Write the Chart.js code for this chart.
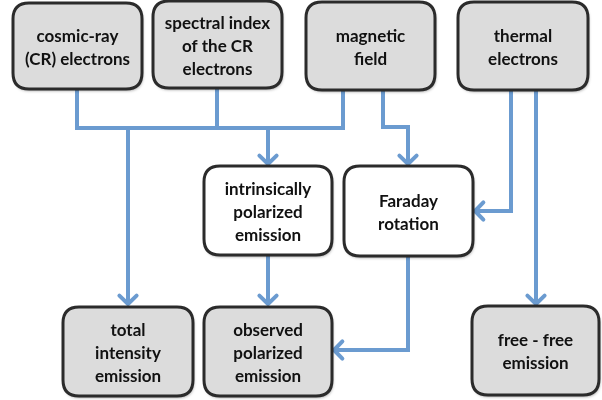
<!DOCTYPE html>
<html><head><meta charset="utf-8">
<script src="https://cdn.jsdelivr.net/npm/chart.js@4/dist/chart.umd.min.js"></script>
<style>html,body{margin:0;padding:0;background:#fff}#wrap{width:602px;height:400px}</style>
</head><body><div id="wrap"><canvas id="c" width="602" height="400"></canvas></div>
<script>
// Node labels (lines) and node extents (in diagram units)
const nodeLabels = [
  ["cosmic-ray","(CR) electrons"],
  ["spectral index","of the CR","electrons"],
  ["magnetic","field"],
  ["thermal","electrons"],
  ["intrinsically","polarized","emission"],
  ["Faraday","rotation"],
  ["total","intensity","emission"],
  ["observed","polarized","emission"],
  ["free - free","emission"]
];
const nodeLeft   = [13, 153, 306, 458, 204, 344, 63, 204, 472];
const nodeRight  = [142, 282, 435, 588, 332, 473, 193, 332, 599];
const nodeTop    = [3, 1, 2, 2, 166, 166, 307, 307, 306];
const nodeBottom = [89, 88, 90, 90, 255, 256, 396, 396, 395];
const nodeKind   = ["input","input","input","input","process","process","output","output","output"];

// Connectors: polylines of x / y values; last point gets an arrow if flagged
const connX = [
  [77, 77, 343, 343],
  [217, 217],
  [128, 128],
  [268, 268],
  [383, 383, 408, 408],
  [511, 511, 475],
  [536, 536],
  [268, 268],
  [408, 408, 334]
];
const connY = [
  [89, 128, 128, 90],
  [88, 128],
  [128, 304],
  [128, 164],
  [90, 127, 127, 164],
  [90, 211, 211],
  [90, 304],
  [255, 304],
  [256, 350, 350]
];
const connArrow = [false, false, true, true, true, true, true, true, true];

const LINE = '#6b9bd0';
const datasets = connX.map((xs, i) => ({
  type: 'line',
  data: xs.map((x, j) => ({x: x, y: connY[i][j]})),
  borderColor: LINE,
  borderWidth: 4,
  pointRadius: 0,
  tension: 0,
  fill: false,
  clip: false,
  arrow: connArrow[i]
}));

function rr(ctx, x, y, w, h, r) {
  ctx.beginPath();
  ctx.moveTo(x + r, y);
  ctx.lineTo(x + w - r, y);
  ctx.quadraticCurveTo(x + w, y, x + w, y + r);
  ctx.lineTo(x + w, y + h - r);
  ctx.quadraticCurveTo(x + w, y + h, x + w - r, y + h);
  ctx.lineTo(x + r, y + h);
  ctx.quadraticCurveTo(x, y + h, x, y + h - r);
  ctx.lineTo(x, y + r);
  ctx.quadraticCurveTo(x, y, x + r, y);
  ctx.closePath();
}

const diagramPlugin = {
  id: 'diagram',
  afterDatasetsDraw(chart) {
    const ctx = chart.ctx, sx = chart.scales.x, sy = chart.scales.y;
    // arrowheads
    chart.data.datasets.forEach((ds) => {
      if (!ds.arrow) return;
      const n = ds.data.length;
      const p1 = ds.data[n - 2], p2 = ds.data[n - 1];
      const x1 = sx.getPixelForValue(p1.x), y1 = sy.getPixelForValue(p1.y);
      const x2 = sx.getPixelForValue(p2.x), y2 = sy.getPixelForValue(p2.y);
      const a = Math.atan2(y2 - y1, x2 - x1);
      const L = 12, sp = 0.8;
      ctx.save();
      ctx.strokeStyle = LINE; ctx.lineWidth = 4; ctx.lineCap = 'round'; ctx.lineJoin = 'round';
      ctx.beginPath();
      ctx.moveTo(x2 - L * Math.cos(a - sp), y2 - L * Math.sin(a - sp));
      ctx.lineTo(x2, y2);
      ctx.lineTo(x2 - L * Math.cos(a + sp), y2 - L * Math.sin(a + sp));
      ctx.stroke();
      ctx.restore();
    });
    // boxes
    nodeLabels.forEach((lines, i) => {
      const x = sx.getPixelForValue(nodeLeft[i]), x2 = sx.getPixelForValue(nodeRight[i]);
      const y = sy.getPixelForValue(nodeTop[i]), y2 = sy.getPixelForValue(nodeBottom[i]);
      const w = x2 - x, h = y2 - y;
      ctx.save();
      ctx.shadowColor = 'rgba(0,0,0,0.35)';
      ctx.shadowBlur = 3; ctx.shadowOffsetX = 1; ctx.shadowOffsetY = 2;
      rr(ctx, x, y, w, h, 16);
      ctx.fillStyle = nodeKind[i] === 'process' ? '#ffffff' : '#dcdcdc';
      ctx.fill();
      ctx.shadowColor = 'transparent';
      ctx.lineWidth = 3; ctx.strokeStyle = '#2b2b2b';
      ctx.stroke();
      ctx.fillStyle = '#111';
      ctx.font = 'bold 17px Lato, "Open Sans", sans-serif';
      ctx.textAlign = 'center'; ctx.textBaseline = 'middle';
      const lh = 23;
      const cx = x + w / 2, cy = y + h / 2 + 2;
      lines.forEach((t, j) => {
        ctx.fillText(t, cx, cy + (j - (lines.length - 1) / 2) * lh);
      });
      ctx.restore();
    });
  }
};

new Chart(document.getElementById('c'), {
  type: 'scatter',
  data: { datasets: datasets },
  options: {
    responsive: false,
    animation: false,
    layout: { padding: 0 },
    plugins: { legend: { display: false }, tooltip: { enabled: false } },
    scales: {
      x: { type: 'linear', min: 0, max: 602, display: false },
      y: { type: 'linear', min: 0, max: 400, reverse: true, display: false }
    }
  },
  plugins: [diagramPlugin]
});
</script>
</body></html>
